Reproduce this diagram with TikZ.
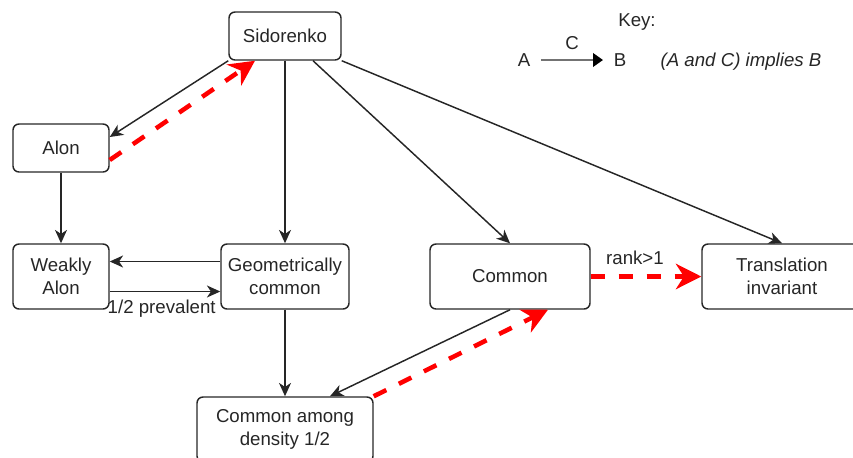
\documentclass[tikz,border=0pt]{standalone}
\usepackage{fontspec}
\setmainfont{Liberation Sans}
\usetikzlibrary{arrows.meta}

\tikzset{every picture/.style={line width=1.1pt}}
\tikzset{
    every node/.style={font=\fontsize{14}{17.25}\selectfont, text=black!85},
    stepbox/.style={draw=black!85, rounded corners=4.5pt, align=center, inner sep=0pt},
    imp/.style={draw=black!85, -{Stealth[length=10pt,width=9pt,inset=3pt]}},
    redimp/.style={draw=red, line width=3.4pt, dash pattern=on 10.5pt off 10.5pt,
        -{Stealth[length=19pt,width=19pt,inset=6pt]}},
    edgelabel/.style={inner sep=0pt}
}

\begin{document}
\begin{tikzpicture}[x=0.75pt,y=0.75pt,yscale=-1,xscale=1]
    \useasboundingbox (0,0) rectangle (853,457);
    \clip (0,0) rectangle (853,457);

    %Shape: Rectangle [Sidorenko]
    \node[stepbox, minimum width=84pt, minimum height=36pt] (sid) at (285,36) {Sidorenko};
    %Shape: Rectangle [Alon]
    \node[stepbox, minimum width=72pt, minimum height=36pt] (alon) at (61,148) {Alon};
    %Shape: Rectangle [Weakly Alon]
    \node[stepbox, minimum width=72pt, minimum height=48.75pt] (weak) at (61,276.5) {Weakly\\Alon};
    %Shape: Rectangle [Geometrically common]
    \node[stepbox, minimum width=96pt, minimum height=48.75pt] (geo) at (285,276.5) {Geometrically\\common};
    %Shape: Rectangle [Common]
    \node[stepbox, minimum width=120pt, minimum height=48.75pt] (common) at (510,276.5) {Common};
    %Shape: Rectangle [Translation invariant]
    \node[stepbox, minimum width=120pt, minimum height=48.75pt] (trans) at (782,276.5) {Translation\\invariant};
    %Shape: Rectangle [Common among density 1/2]
    \node[stepbox, minimum width=132pt, minimum height=48.75pt] (among) at (285,429.5) {Common among\\density 1/2};

    % Text Node
    \node[anchor=base] (key) at (637,26) {Key:};
    % Text Node
    \node[inner sep=7.5pt] (ka) at (524,60) {A};
    % Text Node
    \node[inner sep=7.5pt] (kb) at (620,60) {B};
    % Text Node
    \node[anchor=base] (ktext) at (741,66) {\itshape (A and C) implies B};

    %Straight Lines [key arrow]
    \draw[draw=black!55, line width=2pt, -{Triangle[length=7.5pt,width=10pt,black]}] (ka) -- (kb)
        node[midway, above=3.2pt] (kc) {C};

    %Straight Lines
    \draw[imp] (sid.south west) -- ([yshift=-8.25pt]alon.east);
    \draw[redimp] ([yshift=9pt]alon.east) -- ([xshift=-22.5pt]sid.south);
    %Straight Lines
    \draw[imp] (alon) -- (weak);
    \draw[imp] (sid) -- (geo);
    \draw[imp] ([xshift=21pt]sid.south) -- (common.north);
    \draw[imp] (sid.south east) -- (trans.north);
    %Straight Lines
    \draw[imp] ([yshift=-11.25pt]geo.west) -- ([yshift=-11.25pt]weak.east);
    \draw[imp] ([yshift=11.25pt]weak.east) -- ([yshift=11.25pt]geo.west)
        node[edgelabel, pos=0.47, below=6pt] (prev) {1/2 prevalent};
    %Straight Lines
    \draw[imp] (geo) -- (among);
    \draw[imp] (common.south) -- ([xshift=33.75pt]among.north);
    \draw[redimp] (among.north east) -- ([xshift=28.5pt]common.south);
    \draw[redimp] (common) -- (trans)
        node[edgelabel, pos=0.4, above=7pt] (rank) {rank>1};
\end{tikzpicture}
\end{document}
